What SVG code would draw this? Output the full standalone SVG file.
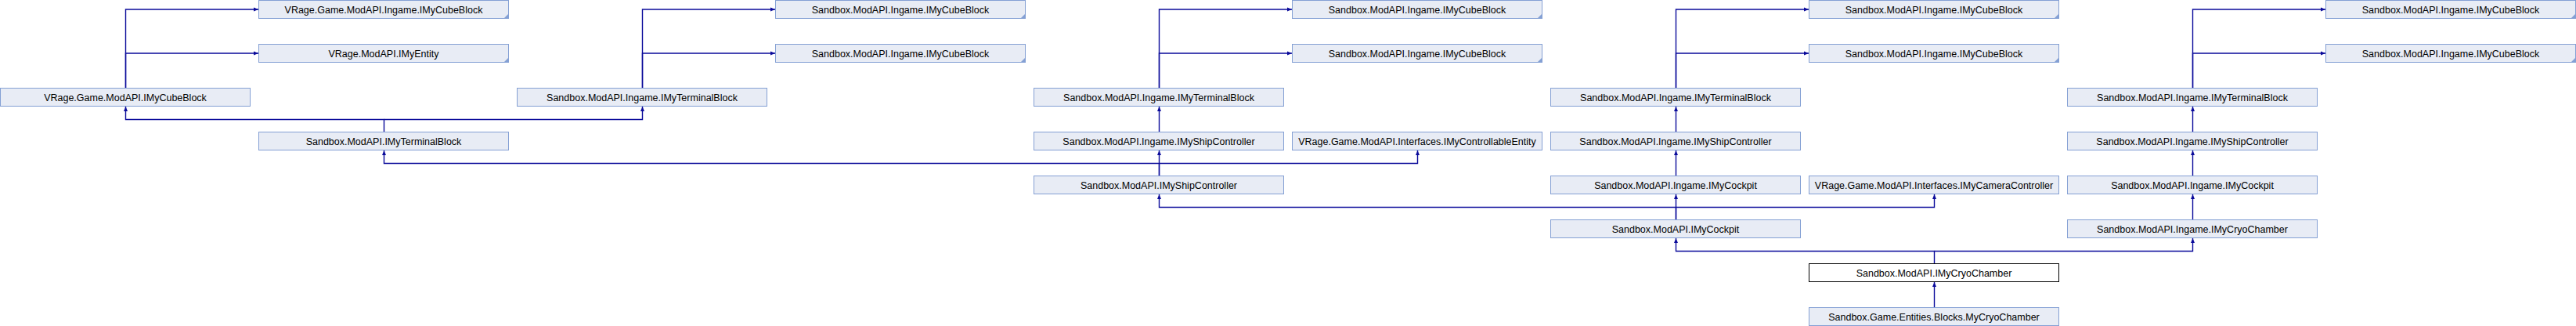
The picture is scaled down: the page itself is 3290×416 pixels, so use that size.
<svg xmlns="http://www.w3.org/2000/svg" width="3290" height="416" viewBox="0 0 3290 416">
<style>
.n rect{fill:#E8ECF5;stroke:#84A0D4;stroke-width:1}
.n.m rect{fill:#FFFFFF;stroke:#000000}
.n text{font-family:"Liberation Sans",Arial,sans-serif;font-size:12.5px;fill:#000000;text-anchor:middle}
.n polygon{fill:#84A0D4}
#edges path{fill:none;stroke:#0A0A9A;stroke-width:1.4}
</style>
<defs>
<marker id="arr" viewBox="0 0 6 6" refX="6" refY="3" markerWidth="6" markerHeight="6" markerUnits="userSpaceOnUse" orient="auto">
<path d="M0,0.5 L6,3 L0,5.5 z" fill="#0A0A9A"/>
</marker>
</defs>
<rect width="3290" height="416" fill="#FFFFFF"/>
<g id="edges">
<path d="M160.5,112 V12 H330" marker-end="url(#arr)"/>
<path d="M160.5,112 V68 H330" marker-end="url(#arr)"/>
<path d="M820.5,112 V12 H990" marker-end="url(#arr)"/>
<path d="M820.5,112 V68 H990" marker-end="url(#arr)"/>
<path d="M1480.5,112 V12 H1650" marker-end="url(#arr)"/>
<path d="M1480.5,112 V68 H1650" marker-end="url(#arr)"/>
<path d="M2140.5,112 V12 H2310" marker-end="url(#arr)"/>
<path d="M2140.5,112 V68 H2310" marker-end="url(#arr)"/>
<path d="M2800.5,112 V12 H2970" marker-end="url(#arr)"/>
<path d="M2800.5,112 V68 H2970" marker-end="url(#arr)"/>
<path d="M490.5,168 V152.5 H160.5 V136" marker-end="url(#arr)"/>
<path d="M490.5,152.5 H820.5 V136" marker-end="url(#arr)"/>
<path d="M1480.5,224 V208.5 H490.5 V192" marker-end="url(#arr)"/>
<path d="M1480.5,224 V192" marker-end="url(#arr)"/>
<path d="M1480.5,208.5 H1810.5 V192" marker-end="url(#arr)"/>
<path d="M1480.5,168 V136" marker-end="url(#arr)"/>
<path d="M2140.5,280 V264.5 H1480.5 V248" marker-end="url(#arr)"/>
<path d="M2140.5,280 V248" marker-end="url(#arr)"/>
<path d="M2140.5,264.5 H2470.5 V248" marker-end="url(#arr)"/>
<path d="M2140.5,224 V192" marker-end="url(#arr)"/>
<path d="M2140.5,168 V136" marker-end="url(#arr)"/>
<path d="M2470.5,336 V320.5 H2140.5 V304" marker-end="url(#arr)"/>
<path d="M2470.5,320.5 H2800.5 V304" marker-end="url(#arr)"/>
<path d="M2470.5,392 V360" marker-end="url(#arr)"/>
<path d="M2800.5,280 V248" marker-end="url(#arr)"/>
<path d="M2800.5,224 V192" marker-end="url(#arr)"/>
<path d="M2800.5,168 V136" marker-end="url(#arr)"/>
</g>
<g id="n_vr_ingame_cube" class="n"><rect x="330.5" y="0.5" width="319" height="23"/><polygon points="649.5,17.5 649.5,23.5 643.5,23.5"/><text x="490" y="16.5">VRage.Game.ModAPI.Ingame.IMyCubeBlock</text></g>
<g id="n_vr_entity" class="n"><rect x="330.5" y="56.5" width="319" height="23"/><polygon points="649.5,73.5 649.5,79.5 643.5,79.5"/><text x="490" y="72.5">VRage.ModAPI.IMyEntity</text></g>
<g id="n_vr_cube" class="n"><rect x="0.5" y="112.5" width="319" height="23"/><text x="160" y="128.5">VRage.Game.ModAPI.IMyCubeBlock</text></g>
<g id="n_sb_terminal" class="n"><rect x="330.5" y="168.5" width="319" height="23"/><text x="490" y="184.5">Sandbox.ModAPI.IMyTerminalBlock</text></g>
<g id="n_c_terminal" class="n"><rect x="660.5" y="112.5" width="319" height="23"/><text x="820" y="128.5">Sandbox.ModAPI.Ingame.IMyTerminalBlock</text></g>
<g id="n_d_cube0" class="n"><rect x="990.5" y="0.5" width="319" height="23"/><polygon points="1309.5,17.5 1309.5,23.5 1303.5,23.5"/><text x="1150" y="16.5">Sandbox.ModAPI.Ingame.IMyCubeBlock</text></g>
<g id="n_d_cube1" class="n"><rect x="990.5" y="56.5" width="319" height="23"/><polygon points="1309.5,73.5 1309.5,79.5 1303.5,79.5"/><text x="1150" y="72.5">Sandbox.ModAPI.Ingame.IMyCubeBlock</text></g>
<g id="n_e_terminal" class="n"><rect x="1320.5" y="112.5" width="319" height="23"/><text x="1480" y="128.5">Sandbox.ModAPI.Ingame.IMyTerminalBlock</text></g>
<g id="n_e_ship_ingame" class="n"><rect x="1320.5" y="168.5" width="319" height="23"/><text x="1480" y="184.5">Sandbox.ModAPI.Ingame.IMyShipController</text></g>
<g id="n_e_ship" class="n"><rect x="1320.5" y="224.5" width="319" height="23"/><text x="1480" y="240.5">Sandbox.ModAPI.IMyShipController</text></g>
<g id="n_f_cube0" class="n"><rect x="1650.5" y="0.5" width="319" height="23"/><polygon points="1969.5,17.5 1969.5,23.5 1963.5,23.5"/><text x="1810" y="16.5">Sandbox.ModAPI.Ingame.IMyCubeBlock</text></g>
<g id="n_f_cube1" class="n"><rect x="1650.5" y="56.5" width="319" height="23"/><polygon points="1969.5,73.5 1969.5,79.5 1963.5,79.5"/><text x="1810" y="72.5">Sandbox.ModAPI.Ingame.IMyCubeBlock</text></g>
<g id="n_f_controllable" class="n"><rect x="1650.5" y="168.5" width="319" height="23"/><text x="1810" y="184.5">VRage.Game.ModAPI.Interfaces.IMyControllableEntity</text></g>
<g id="n_g_terminal" class="n"><rect x="1980.5" y="112.5" width="319" height="23"/><text x="2140" y="128.5">Sandbox.ModAPI.Ingame.IMyTerminalBlock</text></g>
<g id="n_g_ship" class="n"><rect x="1980.5" y="168.5" width="319" height="23"/><text x="2140" y="184.5">Sandbox.ModAPI.Ingame.IMyShipController</text></g>
<g id="n_g_cockpit_ingame" class="n"><rect x="1980.5" y="224.5" width="319" height="23"/><text x="2140" y="240.5">Sandbox.ModAPI.Ingame.IMyCockpit</text></g>
<g id="n_g_cockpit" class="n"><rect x="1980.5" y="280.5" width="319" height="23"/><text x="2140" y="296.5">Sandbox.ModAPI.IMyCockpit</text></g>
<g id="n_h_cube0" class="n"><rect x="2310.5" y="0.5" width="319" height="23"/><polygon points="2629.5,17.5 2629.5,23.5 2623.5,23.5"/><text x="2470" y="16.5">Sandbox.ModAPI.Ingame.IMyCubeBlock</text></g>
<g id="n_h_cube1" class="n"><rect x="2310.5" y="56.5" width="319" height="23"/><polygon points="2629.5,73.5 2629.5,79.5 2623.5,79.5"/><text x="2470" y="72.5">Sandbox.ModAPI.Ingame.IMyCubeBlock</text></g>
<g id="n_h_camera" class="n"><rect x="2310.5" y="224.5" width="319" height="23"/><text x="2470" y="240.5">VRage.Game.ModAPI.Interfaces.IMyCameraController</text></g>
<g id="n_h_cryo" class="n m"><rect x="2310.5" y="336.5" width="319" height="23"/><text x="2470" y="352.5">Sandbox.ModAPI.IMyCryoChamber</text></g>
<g id="n_h_mycryo" class="n"><rect x="2310.5" y="392.5" width="319" height="23"/><text x="2470" y="408.5">Sandbox.Game.Entities.Blocks.MyCryoChamber</text></g>
<g id="n_i_terminal" class="n"><rect x="2640.5" y="112.5" width="319" height="23"/><text x="2800" y="128.5">Sandbox.ModAPI.Ingame.IMyTerminalBlock</text></g>
<g id="n_i_ship" class="n"><rect x="2640.5" y="168.5" width="319" height="23"/><text x="2800" y="184.5">Sandbox.ModAPI.Ingame.IMyShipController</text></g>
<g id="n_i_cockpit" class="n"><rect x="2640.5" y="224.5" width="319" height="23"/><text x="2800" y="240.5">Sandbox.ModAPI.Ingame.IMyCockpit</text></g>
<g id="n_i_cryo" class="n"><rect x="2640.5" y="280.5" width="319" height="23"/><text x="2800" y="296.5">Sandbox.ModAPI.Ingame.IMyCryoChamber</text></g>
<g id="n_j_cube0" class="n"><rect x="2970.5" y="0.5" width="319" height="23"/><polygon points="3289.5,17.5 3289.5,23.5 3283.5,23.5"/><text x="3130" y="16.5">Sandbox.ModAPI.Ingame.IMyCubeBlock</text></g>
<g id="n_j_cube1" class="n"><rect x="2970.5" y="56.5" width="319" height="23"/><polygon points="3289.5,73.5 3289.5,79.5 3283.5,79.5"/><text x="3130" y="72.5">Sandbox.ModAPI.Ingame.IMyCubeBlock</text></g>
</svg>
